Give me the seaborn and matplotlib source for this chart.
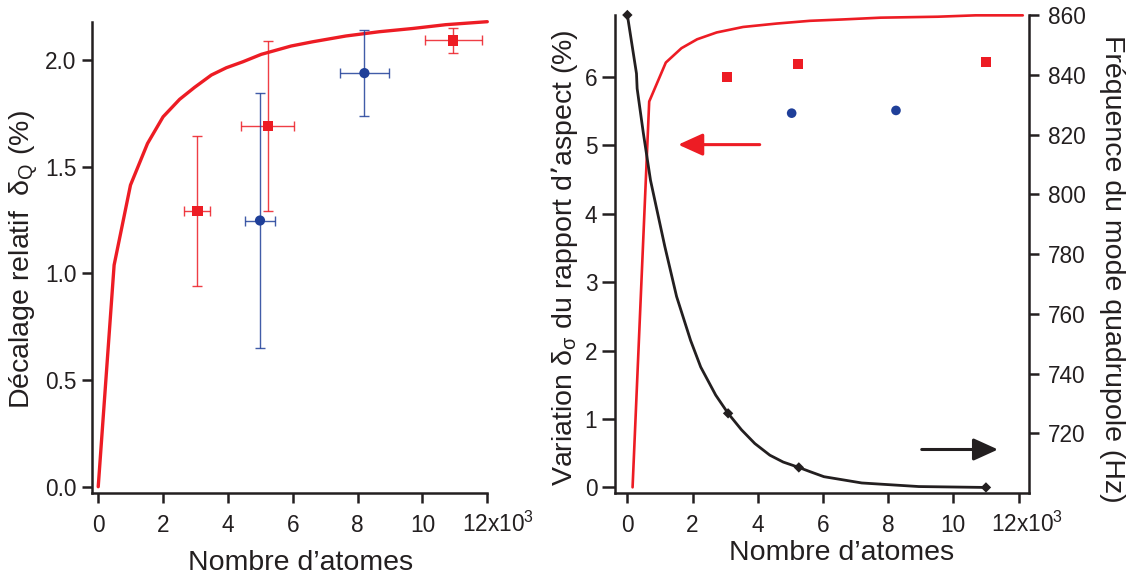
import matplotlib
matplotlib.use("Agg")
import matplotlib.pyplot as plt
import matplotlib.transforms as mtransforms
import seaborn as sns

# ---------------- data ----------------
# Left panel: theoretical relative shift (%) vs atom number (x1e3)
left_curve_n = [0.0, 0.49, 0.995, 1.52, 2.0, 2.51, 2.97, 3.49, 3.95, 4.46, 5.03,
                5.95, 6.62, 7.64, 8.67, 9.69, 10.72, 12.0]
left_curve_shift = [0.0, 1.039, 1.414, 1.609, 1.734, 1.816, 1.872, 1.93, 1.964,
                    1.992, 2.027, 2.066, 2.086, 2.113, 2.133, 2.148, 2.166, 2.18]

left_red_n = [3.06, 5.23, 10.95]
left_red_shift = [1.292, 1.691, 2.092]
left_red_n_err = [0.40, 0.82, 0.875]
left_red_shift_err = [0.35, 0.40, 0.057]

left_blue_n = [4.99, 8.21]
left_blue_shift = [1.248, 1.939]
left_blue_n_err = [0.47, 0.76]
left_blue_shift_err = [0.60, 0.20]

# Right panel: aspect-ratio variation (%) -- left axis
right_red_curve_n = [0.16, 0.67, 1.18, 1.66, 2.14, 2.74, 3.55, 4.58, 5.6, 6.61,
                     7.77, 9.52, 10.68, 12.13]
right_red_curve_var = [0.0, 5.64, 6.21, 6.42, 6.55, 6.65, 6.73, 6.78, 6.82, 6.84,
                       6.866, 6.88, 6.9, 6.9]
right_red_n = [3.07, 5.22, 11.0]
right_red_var = [6.00, 6.19, 6.22]
right_blue_n = [5.04, 8.24]
right_blue_var = [5.47, 5.51]

# Right panel: quadrupole mode frequency (Hz) -- right axis
black_curve_n = [0.0, 0.28, 0.30, 0.49, 0.71, 1.15, 1.51, 1.94, 2.25, 2.71, 3.09,
                 3.50, 3.91, 4.37, 4.78, 5.26, 5.6, 6.03, 7.19, 8.94, 11.0]
black_curve_hz = [860.0, 840.4, 835.4, 820.5, 804.7, 782.5, 765.8, 751.1, 742.2,
                  732.8, 726.7, 721.2, 716.6, 712.7, 710.4, 708.6, 707.2, 705.5,
                  703.4, 702.2, 701.9]
black_pts_n = [0.0, 3.09, 5.26, 11.0]
black_pts_hz = [860.0, 726.7, 708.6, 701.9]

# tick labels
x_ticks = [0, 2, 4, 6, 8, 10, 12]
x_ticklabels = ["0", "2", "4", "6", "8", "10", "12x10$^{3}$"]
left_yticks = [0.0, 0.5, 1.0, 1.5, 2.0]
left_yticklabels = ["0.0", "0.5", "1.0", "1.5", "2.0"]
right_yticks = [0, 1, 2, 3, 4, 5, 6]
hz_ticks = [720, 740, 760, 780, 800, 820, 840, 860]

# arrows (tail x, tip x, y)
red_arrow = (4.06, 1.56, 5.01)
black_arrow = (9.03, 11.37, 714.6)

# ---------------- style ----------------
sns.set_style("ticks")
plt.rcParams["font.family"] = ["Liberation Sans", "DejaVu Sans"]
plt.rcParams["mathtext.default"] = "regular"

RED = "#ed1c24"
BLUE = "#1f3f99"
INK = "#231f20"
TICK_FS = 16.3
LAB_FS = 20.5

fig = plt.figure(figsize=(11.34, 5.77), dpi=100)
ax1 = fig.add_axes([0.0809, 0.1461, 0.3488, 0.8163])
ax2 = fig.add_axes([0.5423, 0.1464, 0.3651, 0.8276])
ax3 = ax2.twinx()

# ---------- left panel ----------
sns.lineplot(x=left_curve_n, y=left_curve_shift, ax=ax1, color=RED, lw=2.4,
             sort=False, estimator=None, clip_on=False)
ax1.errorbar(left_red_n, left_red_shift, xerr=left_red_n_err, yerr=left_red_shift_err,
             fmt="none", ecolor=RED, elinewidth=1.0, capsize=3.3, capthick=1.0, alpha=0.85)
ax1.errorbar(left_blue_n, left_blue_shift, xerr=left_blue_n_err, yerr=left_blue_shift_err,
             fmt="none", ecolor=BLUE, elinewidth=1.0, capsize=3.3, capthick=1.0, alpha=0.85)
sns.scatterplot(x=left_red_n, y=left_red_shift, ax=ax1, marker="s", s=54, color=RED,
                edgecolor="none", zorder=5)
sns.scatterplot(x=left_blue_n, y=left_blue_shift, ax=ax1, marker="o", s=54, color=BLUE,
                edgecolor="none", zorder=5)
ax1.set_xlim(-0.2, 12.0)
ax1.set_ylim(-0.028, 2.18)
ax1.set_xticks(x_ticks)
ax1.set_xticklabels(x_ticklabels)
ax1.set_yticks(left_yticks)
ax1.set_yticklabels(left_yticklabels)
for s in ["top", "right"]:
    ax1.spines[s].set_visible(False)

# ---------- right panel ----------
sns.lineplot(x=right_red_curve_n, y=right_red_curve_var, ax=ax2, color=RED, lw=1.9,
             sort=False, estimator=None, clip_on=False)
sns.scatterplot(x=right_red_n, y=right_red_var, ax=ax2, marker="s", s=52, color=RED,
                edgecolor="none", zorder=5)
sns.scatterplot(x=right_blue_n, y=right_blue_var, ax=ax2, marker="o", s=48, color=BLUE,
                edgecolor="none", zorder=5)
ax2.annotate("", xy=(red_arrow[1], red_arrow[2]), xytext=(red_arrow[0], red_arrow[2]),
             xycoords="data",
             arrowprops=dict(arrowstyle="-|>,head_length=1.5,head_width=0.68",
                             mutation_scale=10, color=RED, lw=2.2,
                             shrinkA=0, shrinkB=0))
ax2.set_xlim(-0.38, 12.32)
ax2.set_ylim(-0.076, 6.905)
ax2.set_xticks(x_ticks)
ax2.set_xticklabels(x_ticklabels)
ax2.set_yticks(right_yticks)

sns.lineplot(x=black_curve_n, y=black_curve_hz, ax=ax3, color=INK, lw=2.0,
             sort=False, estimator=None, clip_on=False)
sns.scatterplot(x=black_pts_n, y=black_pts_hz, ax=ax3, marker="D", s=28, color=INK,
                edgecolor="none", zorder=5, clip_on=False)
ax3.annotate("", xy=(black_arrow[1], black_arrow[2]), xytext=(black_arrow[0], black_arrow[2]),
             xycoords="data",
             arrowprops=dict(arrowstyle="-|>,head_length=1.5,head_width=0.68",
                             mutation_scale=10, color=INK, lw=2.2,
                             shrinkA=0, shrinkB=0))
ax3.set_ylim(700.2, 860)
ax3.set_yticks(hz_ticks)

for s in ["top", "right"]:
    ax2.spines[s].set_visible(False)
for s in ["top", "left", "bottom"]:
    ax3.spines[s].set_visible(False)

# ---------- common axis styling ----------
for ax in (ax1, ax2, ax3):
    for sp in ax.spines.values():
        sp.set_linewidth(1.8)
        sp.set_color(INK)
    ax.tick_params(direction="out", length=7.2, width=1.8, color=INK,
                   labelsize=TICK_FS, labelcolor=INK)
    ax.set_xlabel("")
    ax.set_ylabel("")
ax1.tick_params(axis="y", pad=3.6)
ax2.tick_params(axis="y", length=9.5, pad=3.2)
ax3.tick_params(axis="y", pad=6.5)
for ax, shift_px in ((ax1, 11), (ax2, 8)):
    ax.tick_params(axis="x", pad=21)
    labs = ax.get_xticklabels()
    for lab in labs:
        lab.set_verticalalignment("baseline")
    labs[-1].set_transform(labs[-1].get_transform() +
                           mtransforms.ScaledTranslation(shift_px / 100, 0,
                                                         fig.dpi_scale_trans))

# ---------- labels ----------
fig.text(24 / 1134, 1 - 260 / 577, "Décalage relatif  δ$_{Q}$ (%)", rotation=90,
         ha="center", va="center", fontsize=LAB_FS, color=INK)
fig.text(300.8 / 1134, 1 - 569.7 / 577, "Nombre d’atomes", ha="center", va="baseline",
         fontsize=LAB_FS, color=INK)
fig.text(564.6 / 1134, 1 - 257.6 / 577, "Variation δ$_{σ}$ du rapport d’aspect (%)",
         rotation=90, ha="center", va="center", fontsize=LAB_FS, color=INK)
fig.text(842 / 1134, 1 - 559.5 / 577, "Nombre d’atomes", ha="center", va="baseline",
         fontsize=LAB_FS, color=INK)
fig.text(1112 / 1134, 1 - 268.6 / 577, "Fréquence du mode quadrupole (Hz)", rotation=270,
         ha="center", va="center", fontsize=LAB_FS, color=INK)

fig.savefig("out.png", dpi=100)
